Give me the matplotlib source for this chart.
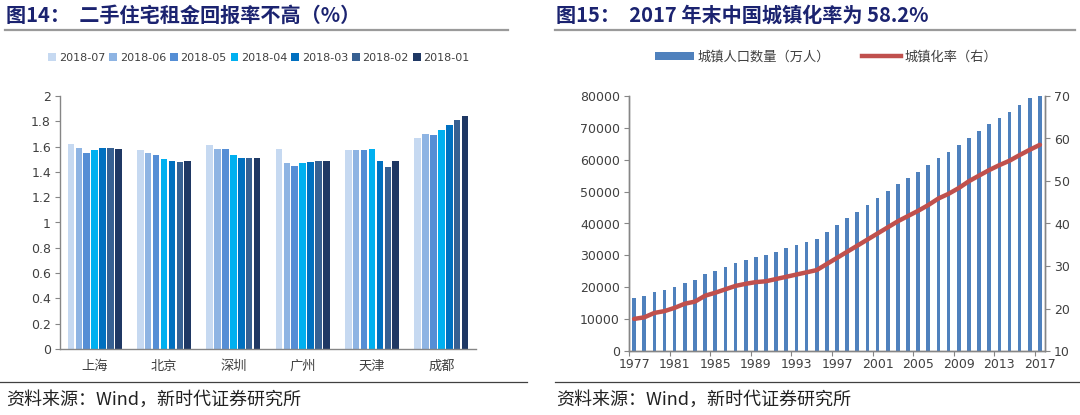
import matplotlib
matplotlib.use("Agg")
import matplotlib.pyplot as plt
import numpy as np
from matplotlib.lines import Line2D
from matplotlib.patches import Patch

plt.rcParams['font.family'] = ['Noto Sans CJK SC', 'DejaVu Sans']

# ---------------- data: left chart ----------------
cities = ['上海', '北京', '深圳', '广州', '天津', '成都']
months = ['2018-07', '2018-06', '2018-05', '2018-04', '2018-03', '2018-02', '2018-01']
yield_2018_07 = [1.62, 1.57, 1.61, 1.58, 1.57, 1.67]
yield_2018_06 = [1.59, 1.55, 1.58, 1.47, 1.57, 1.70]
yield_2018_05 = [1.55, 1.53, 1.58, 1.45, 1.57, 1.69]
yield_2018_04 = [1.57, 1.50, 1.53, 1.47, 1.58, 1.73]
yield_2018_03 = [1.59, 1.49, 1.51, 1.48, 1.49, 1.77]
yield_2018_02 = [1.59, 1.48, 1.51, 1.49, 1.44, 1.81]
yield_2018_01 = [1.58, 1.49, 1.51, 1.49, 1.49, 1.84]
month_colors = ['#C6D9F1', '#8EB4E3', '#558ED5', '#00B0F0', '#0070C0', '#376092', '#1F3864']

# ---------------- data: right chart ----------------
years = list(range(1977, 2018))
urban_pop = [16669, 17245, 18495, 19140, 20171, 21480, 22274, 24017, 25094, 26366,
             27674, 28661, 29540, 30195, 31203, 32175, 33173, 34169, 35174, 37304,
             39449, 41608, 43748, 45906, 48064, 50212, 52376, 54283, 56212, 58288,
             60633, 62403, 64512, 66978, 69079, 71182, 73111, 74916, 77116, 79298,
             81347]
urban_rate = [17.55, 17.92, 18.96, 19.39, 20.16, 21.13, 21.62, 23.01, 23.71, 24.52,
              25.32, 25.81, 26.21, 26.41, 26.94, 27.46, 27.99, 28.51, 29.04, 30.48,
              31.91, 33.35, 34.78, 36.22, 37.66, 39.09, 40.53, 41.76, 42.99, 44.34,
              45.89, 46.99, 48.34, 49.95, 51.27, 52.57, 53.73, 54.77, 56.10, 57.35,
              58.52]

W, H = 1080, 415
fig = plt.figure(figsize=(W / 100, H / 100), dpi=100)

def fx(px):
    return px / W

def fy(py):
    return 1 - py / H

title_color = '#1B2370'
axis_gray = '#868686'
text_color = '#404040'
num_font = ['DejaVu Sans', 'Noto Sans CJK SC']

# titles and rules
fig.text(fx(6), fy(15), '图14：  二手住宅租金回报率不高（%）', fontsize=14.5, fontweight='bold',
         color=title_color, va='center', ha='left')
fig.text(fx(556), fy(15), '图15：  2017 年末中国城镇化率为 58.2%', fontsize=14.5, fontweight='bold',
         color=title_color, va='center', ha='left')
fig.add_artist(Line2D([fx(5), fx(508)], [fy(30), fy(30)], color='#9A9A9A', lw=1.6))
fig.add_artist(Line2D([fx(555), fx(1075)], [fy(30), fy(30)], color='#9A9A9A', lw=1.6))
fig.add_artist(Line2D([fx(0), fx(527)], [fy(382), fy(382)], color='#404040', lw=0.9))
fig.add_artist(Line2D([fx(555), fx(1080)], [fy(382), fy(382)], color='#404040', lw=0.9))
fig.text(fx(6), fy(400), '资料来源：Wind，新时代证券研究所', fontsize=13, color='#222222',
         va='center', ha='left')
fig.text(fx(556), fy(400), '资料来源：Wind，新时代证券研究所', fontsize=13, color='#222222',
         va='center', ha='left')

# ---------------- left chart ----------------
ax1 = fig.add_axes([fx(60), fy(349), fx(476) - fx(60), fy(96) - fy(349)])
series = [yield_2018_07, yield_2018_06, yield_2018_05, yield_2018_04,
          yield_2018_03, yield_2018_02, yield_2018_01]
x = np.arange(len(cities))
slot = 0.114
bw = 0.095
for i, (vals, lab, col) in enumerate(zip(series, months, month_colors)):
    ax1.bar(x + (i - 3) * slot, vals, width=bw, color=col, label=lab, zorder=2)
ax1.set_xlim(-0.5, len(cities) - 0.5)
ax1.set_ylim(0, 2)
ax1.set_yticks(np.arange(0, 2.01, 0.2))
ax1.set_yticklabels(['%g' % round(v, 1) for v in np.arange(0, 2.01, 0.2)],
                    fontsize=9, color=text_color, family=num_font)
ax1.set_xticks(x)
ax1.set_xticklabels(cities, fontsize=9.5, color=text_color)
ax1.tick_params(axis='x', length=0, pad=8)
ax1.tick_params(axis='y', length=3.5, width=0.8, color=axis_gray, direction='out', pad=3)
for s in ['top', 'right']:
    ax1.spines[s].set_visible(False)
for s in ['left', 'bottom']:
    ax1.spines[s].set_color(axis_gray)
    ax1.spines[s].set_linewidth(1.0)

h1, l1 = ax1.get_legend_handles_labels()
leg1 = fig.legend(h1, l1, loc='center', bbox_to_anchor=(fx(259), fy(58)), ncol=7,
                  frameon=False, handlelength=0.7, handleheight=0.7, handletextpad=0.25,
                  columnspacing=0.35, borderpad=0,
                  prop={'family': num_font, 'size': 8})
for t in leg1.get_texts():
    t.set_color(text_color)

# ---------------- right chart ----------------
ax2 = fig.add_axes([fx(629), fy(351), fx(1045) - fx(629), fy(96) - fy(351)])
xi = np.arange(len(years))
ax2.bar(xi, urban_pop, width=0.36, color='#4F81BD', zorder=2, label='城镇人口数量（万人）')
ax2.set_xlim(-0.5, len(years) - 0.5)
ax2.set_ylim(0, 80000)
ax2.set_yticks(np.arange(0, 80001, 10000))
ax2.set_yticklabels(['%d' % v for v in np.arange(0, 80001, 10000)],
                    fontsize=9, color=text_color, family=num_font)
lab_idx = xi[::4]
ax2.set_xticks(lab_idx)
ax2.set_xticklabels([str(years[i]) for i in lab_idx], fontsize=9, color=text_color,
                    family=num_font)
ax2.set_xticks(np.arange(-0.5, len(years) - 0.5, 4), minor=True)
ax2.tick_params(axis='x', which='major', length=0, pad=5)
ax2.tick_params(axis='x', which='minor', length=3.5, width=0.8, color=axis_gray,
                direction='out')
ax2.tick_params(axis='y', length=3.5, width=0.8, color=axis_gray, direction='out', pad=3)
ax2.spines['top'].set_visible(False)
for s in ['left', 'bottom', 'right']:
    ax2.spines[s].set_color(axis_gray)
    ax2.spines[s].set_linewidth(1.0)

ax3 = ax2.twinx()
ax3.plot(xi, urban_rate, color='#C0504D', lw=3.2, solid_capstyle='round', zorder=3,
         label='城镇化率（右）')
ax3.set_ylim(10, 70)
ax3.set_yticks(np.arange(10, 71, 10))
ax3.set_yticklabels(['%d' % v for v in np.arange(10, 71, 10)], fontsize=9,
                    color=text_color, family=num_font)
ax3.tick_params(axis='y', length=3.5, width=0.8, color=axis_gray, direction='out', pad=3)
ax3.spines['top'].set_visible(False)
for s in ['left', 'bottom', 'right']:
    ax3.spines[s].set_color(axis_gray)
    ax3.spines[s].set_linewidth(1.0)

h2 = [Patch(facecolor='#4F81BD', edgecolor='none'),
      Line2D([0], [0], color='#C0504D', lw=3.2)]
l2 = ['城镇人口数量（万人）', '城镇化率（右）']
leg2 = fig.legend(h2, l2, loc='center', bbox_to_anchor=(fx(826), fy(57)), ncol=2,
                  frameon=False, handlelength=3.0, handleheight=0.5, handletextpad=0.25,
                  columnspacing=2.4, borderpad=0, prop={'size': 9.5})
for t in leg2.get_texts():
    t.set_color(text_color)

fig.savefig('out.png', dpi=100)
